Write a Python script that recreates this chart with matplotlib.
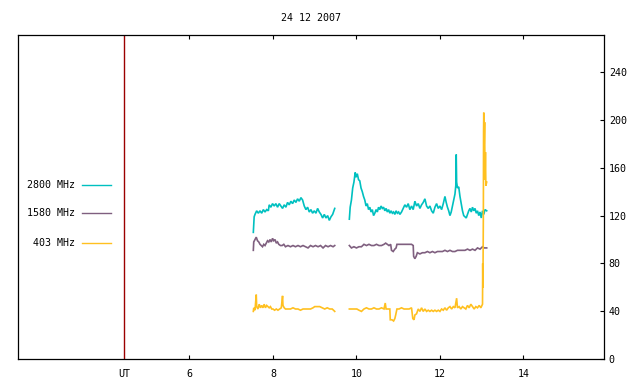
import matplotlib
matplotlib.use('Agg')
import matplotlib.pyplot as plt
import numpy as np

plt.rcParams['font.family'] = ['DejaVu Sans Mono']
plt.rcParams['font.size'] = 7.2

title = "24 12 2007"
ut_pos = 4.44
xtick_pos = [ut_pos, 6, 8, 10, 12, 14]
xtick_labels = ['UT', '6', '8', '10', '12', '14']
ytick_pos = [0, 40, 80, 120, 160, 200, 240]
series_names = ['2800 MHz', '1580 MHz', '403 MHz']
series_colors = ['#00c0c0', '#7f5f7f', '#ffc020']

# 2800 MHz
t2800 = [7.53, 7.55, 7.57, 7.61, 7.65, 7.69, 7.73, 7.77, 7.81, 7.85, 7.89, 7.91, 7.95, 7.99,
         8.03, 8.07, 8.11, 8.15, 8.19, 8.23, 8.27, 8.31, 8.35, 8.39, 8.43, 8.47, 8.51, 8.55,
         8.59, 8.63, 8.67, 8.71, 8.75, 8.79, 8.83, 8.87, 8.91, 8.95, 8.99, 9.03, 9.07, 9.11,
         9.15, 9.19, 9.23, 9.27, 9.31, 9.35, 9.39, 9.43, 9.48, 9.6,
         9.83, 9.85, 9.88, 9.91, 9.94, 9.97, 9.99, 10.02, 10.05, 10.08, 10.11, 10.14, 10.17,
         10.20, 10.23, 10.26, 10.29, 10.32, 10.35, 10.38, 10.41, 10.44, 10.47, 10.50, 10.53,
         10.56, 10.59, 10.62, 10.65, 10.68, 10.71, 10.74, 10.77, 10.80, 10.83, 10.86, 10.89,
         10.92, 10.95, 10.98, 11.01, 11.04, 11.08, 11.12, 11.16, 11.20, 11.24, 11.28, 11.32,
         11.36, 11.40, 11.44, 11.48, 11.52, 11.56, 11.60, 11.64, 11.68, 11.72, 11.76, 11.80,
         11.84, 11.88, 11.92, 11.96, 12.00, 12.04, 12.08, 12.12, 12.15, 12.18, 12.21, 12.24,
         12.27, 12.30, 12.33, 12.36, 12.38, 12.39, 12.40, 12.42, 12.45, 12.48, 12.51, 12.54,
         12.57, 12.60, 12.63, 12.66, 12.69, 12.72, 12.75, 12.78, 12.81, 12.84, 12.87, 12.90,
         12.93, 12.96, 12.99, 13.02, 13.05, 13.08, 13.12]
v2800 = [106, 119, 121, 124, 122, 124, 122, 125, 123, 125, 124, 129, 127, 130,
         128, 130, 127, 130, 128, 126, 129, 127, 131, 129, 132, 130, 133, 131,
         134, 132, 135, 133, 128, 125, 127, 123, 125, 122, 124, 122, 126, 123,
         121, 118, 121, 118, 120, 116, 119, 121, 126, np.nan,
         117, 127, 133, 143, 148, 156, 152, 155, 150, 149, 143, 140, 136,
         133, 128, 130, 125, 127, 123, 125, 120, 122, 125, 123, 127,
         125, 128, 126, 127, 124, 126, 123, 125, 122, 124, 122, 123,
         121, 124, 122, 123, 121, 123, 126, 129, 127, 130, 125, 128,
         125, 132, 128, 130, 126, 129, 131, 134, 128, 126, 128, 124,
         122, 127, 130, 126, 128, 125, 130, 136, 131, 127, 124, 120,
         123, 128, 133, 138, 145, 171, 148, 143, 144, 136, 130, 124,
         120, 119, 118, 121, 124, 126, 123, 127, 124, 126, 122, 124,
         120, 123, 118, 124, 121, 125, 124]

# 1580 MHz
t1580 = [7.53, 7.54, 7.57, 7.60, 7.63, 7.66, 7.69, 7.72, 7.75, 7.78, 7.81, 7.84, 7.87, 7.90,
         7.93, 7.96, 7.99, 8.02, 8.05, 8.08, 8.11, 8.14, 8.18, 8.22, 8.26, 8.30, 8.36, 8.42,
         8.48, 8.54, 8.60, 8.66, 8.72, 8.78, 8.84, 8.90, 8.96, 9.02, 9.08, 9.14, 9.20, 9.26,
         9.32, 9.38, 9.44, 9.48, 9.6,
         9.83, 9.88, 9.94, 10.00, 10.06, 10.12, 10.18, 10.24, 10.30, 10.36, 10.42, 10.48,
         10.54, 10.60, 10.66, 10.70, 10.74, 10.78, 10.82, 10.84, 10.88, 10.92, 10.95, 10.97,
         11.02, 11.08, 11.14, 11.20, 11.26, 11.32, 11.36, 11.37, 11.40, 11.43, 11.46, 11.52,
         11.58, 11.64, 11.70, 11.76, 11.82, 11.88, 11.94, 12.00, 12.06, 12.12, 12.18, 12.24,
         12.30, 12.36, 12.42, 12.48, 12.54, 12.60, 12.66, 12.72, 12.78, 12.84, 12.90, 12.96,
         13.02, 13.06, 13.12]
v1580 = [91, 98, 100, 102, 99, 98, 96, 95, 94, 96, 95, 97, 99, 98,
         100, 98, 101, 99, 100, 97, 98, 96, 95, 95, 96, 94, 95, 94,
         95, 94, 95, 94, 95, 94, 93, 95, 94, 95, 94, 95, 93, 95,
         94, 95, 94, 95, np.nan,
         95, 93, 94, 93, 94, 94, 96, 95, 96, 95, 95, 96,
         95, 95, 96, 97, 96, 95, 96, 91, 90, 92, 93, 96,
         96, 96, 96, 96, 96, 96, 95, 86, 84, 86, 89, 88,
         89, 89, 90, 89, 90, 89, 90, 90, 90, 91, 90, 91,
         90, 90, 91, 91, 91, 91, 92, 91, 92, 91, 93, 92,
         94, 93, 93]

# 403 MHz
t403 = [7.53, 7.54, 7.57, 7.60, 7.61, 7.64, 7.67, 7.70, 7.73, 7.76, 7.79, 7.82, 7.85, 7.88,
        7.91, 7.94, 7.97, 8.00, 8.04, 8.08, 8.12, 8.16, 8.20, 8.23, 8.24, 8.27, 8.30, 8.36,
        8.42, 8.48, 8.54, 8.60, 8.66, 8.72, 8.78, 8.84, 8.90, 8.96, 9.00, 9.06, 9.12, 9.18,
        9.24, 9.30, 9.36, 9.42, 9.48, 9.6,
        9.83, 9.89, 9.95, 10.01, 10.06, 10.12, 10.18, 10.24, 10.30, 10.36, 10.42, 10.48,
        10.54, 10.60, 10.66, 10.69, 10.71, 10.76, 10.80, 10.81, 10.85, 10.89, 10.92, 10.94,
        10.97, 11.02, 11.08, 11.14, 11.20, 11.26, 11.32, 11.35, 11.38, 11.40, 11.44, 11.48,
        11.52, 11.56, 11.60, 11.64, 11.68, 11.72, 11.76, 11.80, 11.84, 11.88, 11.92, 11.96,
        12.00, 12.04, 12.08, 12.12, 12.16, 12.20, 12.24, 12.28, 12.32, 12.36, 12.40, 12.42,
        12.46, 12.50, 12.54, 12.58, 12.62, 12.66, 12.70, 12.74, 12.78, 12.82, 12.86, 12.90,
        12.94, 12.98, 13.02, 13.025, 13.03, 13.04, 13.045, 13.05, 13.06, 13.07, 13.08, 13.09,
        13.10, 13.12]
v403 = [40, 43, 41, 54, 44, 42, 46, 43, 45, 43, 46, 43, 45, 44,
        43, 44, 42, 42, 41, 42, 41, 42, 43, 53, 45, 43, 42, 42,
        42, 43, 42, 42, 41, 42, 42, 42, 42, 43, 44, 44, 44, 43,
        42, 43, 42, 42, 40, np.nan,
        42, 42, 42, 42, 41, 40, 42, 43, 42, 42, 43, 42,
        42, 43, 42, 47, 42, 42, 42, 33, 33, 32, 34, 37,
        42, 42, 43, 42, 42, 42, 43, 34, 33, 37, 38, 42,
        40, 43, 40, 42, 40, 41, 40, 41, 40, 41, 40, 41,
        40, 42, 41, 43, 41, 43, 44, 42, 44, 43, 51, 43,
        44, 42, 44, 43, 42, 45, 43, 46, 44, 42, 44, 43,
        45, 43, 46, 80, 60, 120, 190, 206, 180, 198, 150, 173,
        145, 148]

fig = plt.figure(figsize=(6.4, 3.84), dpi=100)
ax = fig.add_axes([18/640, 1 - 359.3/384, 586/640, 324.3/384])
ax.set_xlim(1.893, 15.93)
ax.set_ylim(0, 270.8)

series = [(t2800, v2800), (t1580, v1580), (t403, v403)]
for (t, v), c in zip(series, series_colors):
    ax.plot(t, v, color=c, lw=1.2, solid_joinstyle='miter')

ax.axvline(ut_pos, color='#9b0000', lw=1.0)

ax.set_xticks(xtick_pos)
ax.set_xticklabels(xtick_labels)
ax.tick_params(axis='x', direction='in', length=3, width=0.8, top=True, bottom=True, pad=7)
for tk in ax.xaxis.get_major_ticks()[:1]:
    tk.tick1line.set_visible(False)
    tk.tick2line.set_visible(False)

ax.yaxis.tick_right()
ax.set_yticks(ytick_pos)
ax.tick_params(axis='y', direction='in', length=3, width=0.8, left=False, right=True,
               labelleft=False, labelright=True, pad=3.5)
for s in ax.spines.values():
    s.set_linewidth(0.9)

fig.text((18 + 604) / 2 / 640, 1 - 18/384, title, ha='center', va='center')

leg_y = [0.539, 0.4497, 0.360]
for name, c, y in zip(series_names, series_colors, leg_y):
    ax.text(0.0973, y, name, transform=ax.transAxes, ha='right', va='center')
    ax.plot([0.1092, 0.1587], [y, y], transform=ax.transAxes, color=c, lw=1.0)

fig.savefig('out.png', dpi=100)
